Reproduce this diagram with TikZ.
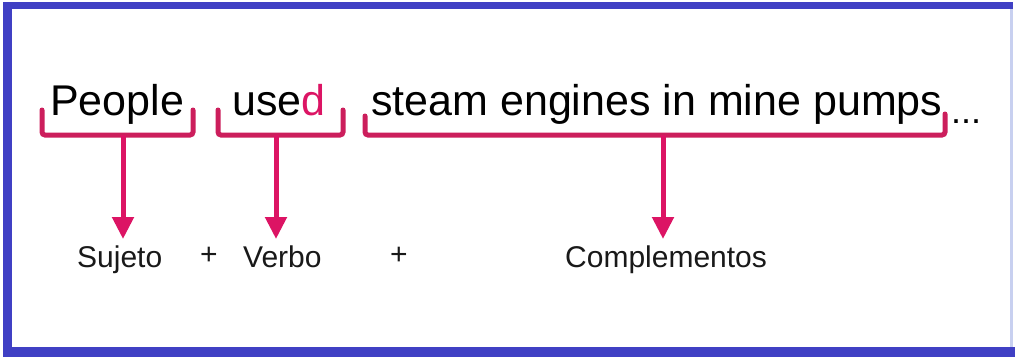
\documentclass[tikz,border=0pt]{standalone}
\usepackage{fontspec}
\setmainfont{Liberation Sans}
\usetikzlibrary{arrows.meta}
\definecolor{frameblue}{RGB}{64,64,196}
\definecolor{rimblue}{RGB}{200,208,240}
\definecolor{accent}{RGB}{220,20,100}
\definecolor{brk}{RGB}{204,30,92}
\tikzset{
  big/.style={inner sep=0pt, anchor=base west, font=\fontsize{43}{48}\selectfont},
  small/.style={inner sep=0pt, anchor=base west, font=\fontsize{30}{36}\selectfont, text=black!90},
  bracketline/.style={draw=brk, line width=5pt, rounded corners=3pt, line cap=round},
  arrowline/.style={draw=accent, line width=5pt, -{Triangle[width=21pt,length=22pt]}},
}
\begin{document}
\begin{tikzpicture}[x=1pt,y=-1pt]
\useasboundingbox (0,0) rectangle (1015,357);
\fill[white] (0,0) rectangle (1015,357);
% frame
\fill[frameblue] (3,2) rectangle (1013,9);
\fill[frameblue] (3,2) rectangle (12,357);
\fill[frameblue] (3,347) rectangle (1015,357);
\fill[rimblue] (1010,9) rectangle (1013,347);

% sentence
\node[big] (people) at (50,115) {People};
\node[big] (used) at (232,115) {use\textcolor{accent}{d}};
\node[big] (rest) at (371,115) {steam engines in mine pumps};
\node[inner sep=0pt, anchor=base west, font=\fontsize{36}{40}\selectfont] (dots) at (951,123) {...};

% brackets
\coordinate (p1) at (42,110); \coordinate (p2) at (193,110); \coordinate (ps) at (123,135);
\coordinate (u1) at (218,110); \coordinate (u2) at (343,110); \coordinate (us) at (276,135);
\coordinate (r1) at (365,116); \coordinate (r2) at (945,114); \coordinate (rs) at (663,135);
\draw[bracketline] (p1) |- (ps) -| (p2);
\draw[bracketline] (u1) |- (us) -| (u2);
\draw[bracketline] (r1) |- (rs) -| (r2);

% labels
\node[small] (sujeto) at (77,267) {Sujeto};
\node[small] (plus1) at (200,264) {+};
\node[small] (verbo) at (243,267) {Verbo};
\node[small] (plus2) at (390,264) {+};
\node[small] (compl) at (565,267) {Complementos};

% arrows
\coordinate (t1) at (123,239);
\coordinate (t2) at (276,239);
\coordinate (t3) at (663,239);
\draw[arrowline] (ps) -- (t1);
\draw[arrowline] (us) -- (t2);
\draw[arrowline] (rs) -- (t3);
\end{tikzpicture}
\end{document}
